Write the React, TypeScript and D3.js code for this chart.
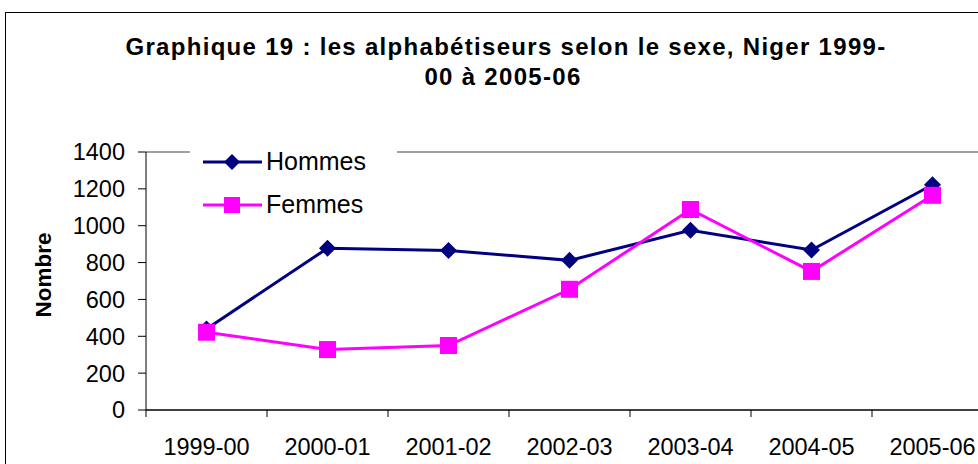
import React from "react";
import * as d3 from "d3";

const categories = ["1999-00", "2000-01", "2001-02", "2002-03", "2003-04", "2004-05", "2005-06"];
const hommes = [440, 878, 866, 812, 975, 868, 1222];
const femmes = [422, 328, 350, 655, 1088, 752, 1165];
const yTicks = [0, 200, 400, 600, 800, 1000, 1200, 1400];

const FONT = "'Liberation Sans', Arial, sans-serif";
const NAVY = "#000080";
const MAGENTA = "#FF00FF";

const App = () => {
  const width = 978;
  const height = 464;
  const left = 146;
  const top = 152;
  const bottom = 410;
  const bandW = 121;

  const x = d3
    .scaleBand()
    .domain(categories)
    .range([left, left + bandW * categories.length]);
  const y = d3.scaleLinear().domain([0, 1400]).range([bottom, top]);
  const cx = (c: string) => (x(c) as number) + x.bandwidth() / 2;

  const line = d3
    .line<number>()
    .x((_, i) => cx(categories[i]))
    .y((d) => y(d));

  const diamond = (px: number, py: number, r = 8.5) =>
    `M${px},${py - r}L${px + r},${py}L${px},${py + r}L${px - r},${py}Z`;

  return (
    <svg
      width={width}
      height={height}
      style={{ position: "absolute", left: 0, top: 0, background: "#fff" }}
    >
      {/* outer frame */}
      <rect x={5.5} y={12.5} width={1000} height={500} fill="#fff" stroke="#000" strokeWidth={1} />

      {/* title */}
      <g fontFamily={FONT} fontWeight="bold" fontSize={24} letterSpacing={1.3} textAnchor="middle" fill="#000">
        <text x={506} y={55}>Graphique 19 : les alphabétiseurs selon le sexe, Niger 1999-</text>
        <text x={503} y={85}>00 à 2005-06</text>
      </g>

      {/* plot area top border */}
      <line x1={left} x2={width} y1={top} y2={top} stroke="#808080" strokeWidth={1.5} />

      {/* y axis */}
      <line x1={left} x2={left} y1={top} y2={bottom} stroke="#000" strokeWidth={1} />
      {yTicks.map((t) => (
        <g key={t}>
          <line x1={left - 8} x2={left} y1={y(t)} y2={y(t)} stroke="#000" />
          <text
            x={125}
            y={y(t)}
            dy="0.36em"
            textAnchor="end"
            fontFamily={FONT}
            fontSize={23.5}
            fill="#000"
          >
            {t}
          </text>
        </g>
      ))}

      {/* x axis */}
      <line x1={left} x2={width} y1={bottom} y2={bottom} stroke="#000" strokeWidth={1.5} />
      {categories.map((c) => (
        <g key={c}>
          <line x1={x(c) as number} x2={x(c) as number} y1={bottom} y2={bottom + 7} stroke="#000" />
          <text
            x={cx(c)}
            y={455}
            textAnchor="middle"
            fontFamily={FONT}
            fontSize={23.5}
            fill="#000"
          >
            {c}
          </text>
        </g>
      ))}

      {/* y axis title */}
      <text
        transform={`translate(51, 275) rotate(-90)`}
        textAnchor="middle"
        fontFamily={FONT}
        fontWeight="bold"
        fontSize={22.5}
        fill="#000"
      >
        Nombre
      </text>

      {/* series */}
      <path d={line(hommes) || ""} fill="none" stroke={NAVY} strokeWidth={3} />
      <path d={line(femmes) || ""} fill="none" stroke={MAGENTA} strokeWidth={3} />
      {hommes.map((v, i) => (
        <path key={"h" + i} d={diamond(cx(categories[i]), y(v))} fill={NAVY} />
      ))}
      {femmes.map((v, i) => (
        <rect
          key={"f" + i}
          x={cx(categories[i]) - 8.5}
          y={y(v) - 8.5}
          width={17}
          height={17}
          fill={MAGENTA}
        />
      ))}

      {/* legend */}
      <rect x={190} y={140} width={207} height={82} fill="#fff" />
      <g fontFamily={FONT} fontSize={25} fill="#000">
        <line x1={203} x2={262} y1={162} y2={162} stroke={NAVY} strokeWidth={3} />
        <path d={diamond(232, 162, 8)} fill={NAVY} />
        <text x={266} y={170}>Hommes</text>
        <line x1={203} x2={262} y1={205} y2={205} stroke={MAGENTA} strokeWidth={3} />
        <rect x={224} y={197} width={16} height={16} fill={MAGENTA} />
        <text x={266} y={213}>Femmes</text>
      </g>
    </svg>
  );
};

export default App;
